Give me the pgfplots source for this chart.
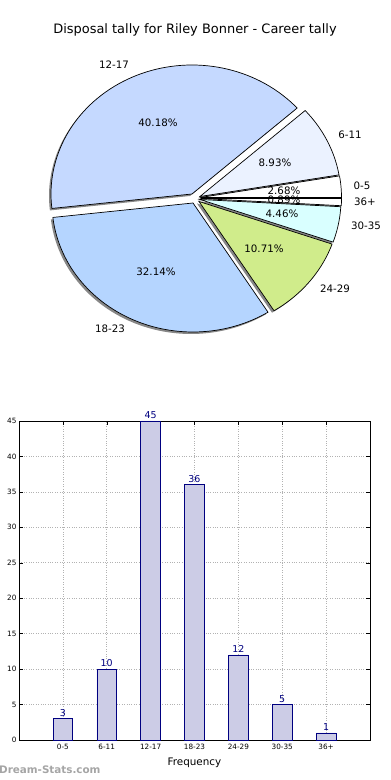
\documentclass[border=0pt]{standalone}
\usepackage{pgfplots}
\pgfplotsset{compat=1.18}
\usepackage{fontspec}
\setmainfont{DejaVu Sans}
\definecolor{cA}{RGB}{255,255,255}   % 0-5
\definecolor{cB}{RGB}{235,242,255}   % 6-11
\definecolor{cC}{RGB}{197,217,255}   % 12-17
\definecolor{cD}{RGB}{181,213,255}   % 18-23
\definecolor{cE}{RGB}{208,236,139}   % 24-29
\definecolor{cF}{RGB}{217,255,255}   % 30-35
\definecolor{cG}{RGB}{255,255,255}   % 36+
\definecolor{shadowc}{RGB}{135,135,135}
\definecolor{barfill}{RGB}{204,204,230}
\definecolor{baredge}{RGB}{0,0,128}
\definecolor{wm}{RGB}{165,165,165}
% slice: #1 cx, #2 cy (pixel, y down), #3 start angle, #4 end angle, #5 style
\newcommand{\pieslice}[5]{%
  \addplot[#5, domain=#3:#4, samples=70, variable=\t]
    ({#1+141*cos(\t)},{-#2+129*sin(\t)}) -- (axis cs:#1,-#2) -- cycle;}
\begin{document}
\begin{tikzpicture}[x=1bp,y=1bp]
\useasboundingbox (0,0) rectangle (390,780);
\begin{axis}[at={(0,0)}, anchor=south west, scale only axis,
  width=390bp, height=780bp, xmin=0, xmax=390, ymin=-780, ymax=0,
  hide axis, clip=false]
% shadows (offset left-down)
\pieslice{198.5}{199.5}{0}{9.643}{fill=shadowc, draw=none}
\pieslice{198}{198.5}{9.643}{41.786}{fill=shadowc, draw=none}
\pieslice{190}{196}{41.786}{186.429}{fill=shadowc, draw=none}
\pieslice{191}{205}{186.429}{302.143}{fill=shadowc, draw=none}
\pieslice{197}{203.5}{302.143}{340.714}{fill=shadowc, draw=none}
\pieslice{198}{201.5}{340.714}{356.786}{fill=shadowc, draw=none}
\pieslice{198.5}{200.5}{356.786}{360}{fill=shadowc, draw=none}
% slices
\pieslice{200.5}{197.5}{0}{9.643}{fill=cA, draw=black, line width=0.7pt}
\pieslice{200}{196.5}{9.643}{41.786}{fill=cB, draw=black, line width=0.7pt}
\pieslice{192}{194}{41.786}{186.429}{fill=cC, draw=black, line width=0.7pt}
\pieslice{193}{203}{186.429}{302.143}{fill=cD, draw=black, line width=0.7pt}
\pieslice{199}{201.5}{302.143}{340.714}{fill=cE, draw=black, line width=0.7pt}
\pieslice{200}{199.5}{340.714}{356.786}{fill=cF, draw=black, line width=0.7pt}
\pieslice{200.5}{198.5}{356.786}{360}{fill=cG, draw=black, line width=0.7pt}
% labels
\begin{scope}[every node/.style={font=\fontsize{10.3}{12}\selectfont, inner sep=0pt}]
\node at (axis cs:114,-65) {12-17};
\node at (axis cs:350,-135) {6-11};
\node at (axis cs:362,-186) {0-5};
\node at (axis cs:365,-202) {36+};
\node at (axis cs:366,-226) {30-35};
\node at (axis cs:335,-289) {24-29};
\node at (axis cs:110,-329) {18-23};
\node at (axis cs:158,-123) {40.18\%};
\node at (axis cs:275,-163) {8.93\%};
\node at (axis cs:284,-191) {2.68\%};
\node at (axis cs:284,-200) {0.89\%};
\node at (axis cs:282,-214) {4.46\%};
\node at (axis cs:264,-249) {10.71\%};
\node at (axis cs:156,-272) {32.14\%};
\end{scope}
\node[font=\fontsize{13}{15}\selectfont, inner sep=0pt] at (axis cs:195,-30) {Disposal tally for Riley Bonner - Career tally};
\node[anchor=west, font=\bfseries\fontsize{10.4}{12}\selectfont, text=wm, inner sep=0pt] at (axis cs:-1,-770) {Dream-Stats.com};
\end{axis}
\begin{axis}[at={(19bp,40bp)}, anchor=south west, scale only axis,
  width=351bp, height=319bp,
  xmin=-1, xmax=7, ymin=0, ymax=45,
  xtick={0,1,2,3,4,5,6},
  xticklabels={0-5,6-11,12-17,18-23,24-29,30-35,36+},
  ytick={0,5,10,15,20,25,30,35,40,45},
  tick align=inside, major tick length=4bp,
  tick style={black, line width=0.5pt},
  axis line style={line width=0.8pt},
  grid=major,
  major grid style={gray!60, dotted, line width=0.6pt},
  tick label style={font=\fontsize{7.3}{8}\selectfont},
  /pgf/number format/assume math mode=true,
  xticklabel style={yshift=-0.5bp},
  yticklabel style={xshift=1bp},
  xlabel={Frequency},
  xlabel style={font=\fontsize{10.4}{12}\selectfont, yshift=-2bp},
  clip=false,
  ]
\addplot[ybar, bar width=0.45, fill=barfill, draw=baredge, line width=0.7pt,
  nodes near coords, nodes near coords style={font=\fontsize{9.5}{11}\selectfont, text=baredge, inner sep=2bp}]
  coordinates {(0,3) (1,10) (2,45) (3,36) (4,12) (5,5) (6,1)};
\end{axis}
\end{tikzpicture}
\end{document}
